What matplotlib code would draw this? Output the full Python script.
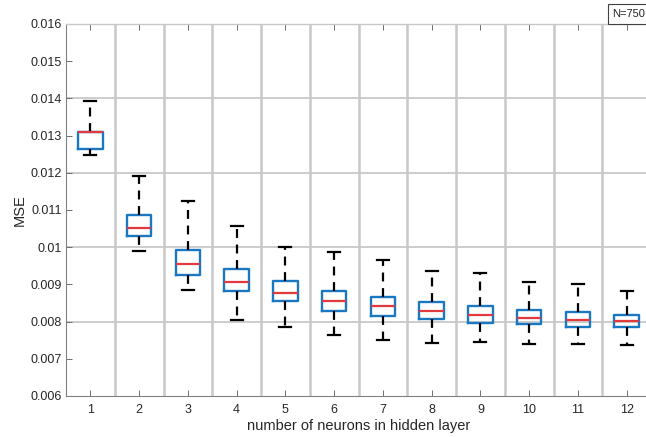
import matplotlib
matplotlib.use("Agg")
import matplotlib.pyplot as plt

plt.rcParams['font.family'] = ['Liberation Sans', 'DejaVu Sans']

neurons = [1, 2, 3, 4, 5, 6, 7, 8, 9, 10, 11, 12]
whisker_hi = [0.01393, 0.01191, 0.01124, 0.01058, 0.01000, 0.00986, 0.00965, 0.00936, 0.00931, 0.00906, 0.00902, 0.00882]
q3 =         [0.01310, 0.01086, 0.00992, 0.00941, 0.00910, 0.00883, 0.00866, 0.00852, 0.00841, 0.00831, 0.00825, 0.00818]
median =     [0.01310, 0.01052, 0.00954, 0.00907, 0.00878, 0.00855, 0.00842, 0.00828, 0.00818, 0.00809, 0.00804, 0.00801]
q1 =         [0.01263, 0.01031, 0.00926, 0.00882, 0.00855, 0.00829, 0.00816, 0.00807, 0.00797, 0.00793, 0.00786, 0.00785]
whisker_lo = [0.01248, 0.00991, 0.00884, 0.00804, 0.00786, 0.00763, 0.00751, 0.00742, 0.00745, 0.00740, 0.00740, 0.00737]

y_ticks = [0.006, 0.007, 0.008, 0.009, 0.010, 0.011, 0.012, 0.013, 0.014, 0.015, 0.016]
y_labels = ['0.006', '0.007', '0.008', '0.009', '0.01', '0.011', '0.012', '0.013', '0.014', '0.015', '0.016']

W, H = 646, 437
fig = plt.figure(figsize=(W / 100, H / 100), dpi=100)
left, right, top, bottom = 66, 651, 24, 396
ax = fig.add_axes([left / W, (H - bottom) / H, (right - left) / W, (bottom - top) / H])

stats = []
for i in range(len(neurons)):
    stats.append(dict(med=median[i], q1=q1[i], q3=q3[i],
                      whislo=whisker_lo[i], whishi=whisker_hi[i], fliers=[]))

gridc = '#c8c8c8'
for g in [0.008, 0.010, 0.012, 0.014, 0.016]:
    ax.axhline(g, color=gridc, lw=1.3, zorder=0)
for n in neurons[:-1]:
    ax.axvline(n + 0.5, color=gridc, lw=1.8, zorder=0)

blue = '#1a78c2'
ax.bxp(stats, positions=neurons, widths=0.5, capwidths=0.25, showfliers=False,
       boxprops=dict(color=blue, lw=1.7),
       medianprops=dict(color='#e0393e', lw=1.6),
       whiskerprops=dict(color='black', lw=1.6, linestyle=(0, (4, 3))),
       capprops=dict(color='black', lw=1.6), manage_ticks=False)

ax.set_xlim(0.5, 12.5)
ax.set_ylim(0.006, 0.016)
ax.set_xticks(neurons)
ax.set_xticklabels([str(n) for n in neurons])
ax.set_yticks(y_ticks)
ax.set_yticklabels(y_labels)

ax.tick_params(axis='both', direction='in', colors='#6d6d6d', labelcolor='#262626',
               labelsize=9, length=4, width=0.7)
ax.tick_params(axis='x', top=True, pad=6)
ax.tick_params(axis='y', pad=3)

for s in ['left', 'bottom']:
    ax.spines[s].set_color('#808080')
    ax.spines[s].set_linewidth(0.8)
for s in ['top', 'right']:
    ax.spines[s].set_color(gridc)
    ax.spines[s].set_linewidth(1.0)

ax.set_xlabel('number of neurons in hidden layer', fontsize=10.5, color='#262626', labelpad=2)
ax.set_ylabel('MSE', fontsize=10.5, color='#262626', labelpad=3)

fig.text(629 / W, 1 - 14 / H, 'N=750', fontsize=8, color='#262626', ha='center', va='center',
         bbox=dict(boxstyle='square,pad=0.45', fc='white', ec='#404040', lw=0.8))

fig.savefig('out.png', dpi=100)
